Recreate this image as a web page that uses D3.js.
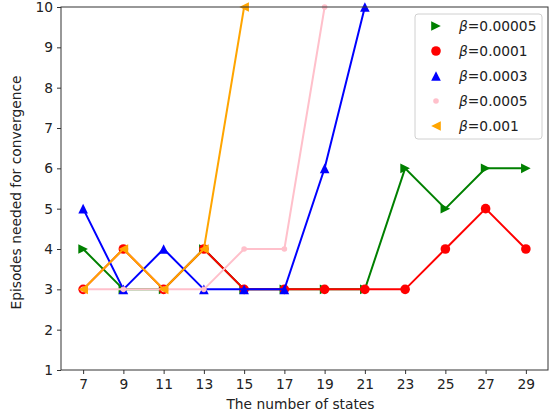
<!DOCTYPE html>
<html>
<head>
<meta charset="utf-8">
<script src="https://cdn.jsdelivr.net/npm/d3@7"></script>
<style>
  body { margin: 0; background: #fff; }
  svg { font-family: "DejaVu Sans", sans-serif; }
</style>
</head>
<body>
<div id="chart"></div>
<script>
const states = [7, 9, 11, 13, 15, 17, 19, 21, 23, 25, 27, 29];
const xTicks = [7, 9, 11, 13, 15, 17, 19, 21, 23, 25, 27, 29];
const yTicks = [1, 2, 3, 4, 5, 6, 7, 8, 9, 10];

const beta00005 = [4, 3, 3, 4, 3, 3, 3, 3, 6, 5, 6, 6];
const beta0001  = [3, 4, 3, 4, 3, 3, 3, 3, 3, 4, 5, 4];
const beta0003  = [5, 3, 4, 3, 3, 3, 6, 10];
const beta0005  = [3, 3, 3, 3, 4, 4, 10];
const beta001   = [3, 4, 3, 4, 10];

const seriesNames = ["0.00005", "0.0001", "0.0003", "0.0005", "0.001"];

const series = [
  { name: seriesNames[0], values: beta00005, color: "green", marker: "right" },
  { name: seriesNames[1], values: beta0001, color: "red", marker: "circle" },
  { name: seriesNames[2], values: beta0003, color: "blue", marker: "up" },
  { name: seriesNames[3], values: beta0005, color: "pink", marker: "point" },
  { name: seriesNames[4], values: beta001, color: "orange", marker: "left" }
];

const W = 553, H = 418;
const m = { left: 61, right: 548, top: 7, bottom: 370 };
const fs = "13.8px";

const svg = d3.select("#chart").append("svg")
  .attr("width", W)
  .attr("height", H);

const x = d3.scaleLinear().domain([5.9, 30.1]).range([m.left, m.right]);
const y = d3.scaleLinear().domain([1, 10]).range([m.bottom, m.top]);

svg.append("clipPath").attr("id", "clip")
  .append("rect")
  .attr("x", m.left).attr("y", m.top - 6)
  .attr("width", m.right - m.left).attr("height", m.bottom - m.top + 6);

// marker shapes
function markerPath(type, s) {
  if (type === "up") return `M0,${-s}L${-s},${s}L${s},${s}Z`;
  if (type === "right") return `M${s},0L${-s},${-s}L${-s},${s}Z`;
  if (type === "left") return `M${-s},0L${s},${-s}L${s},${s}Z`;
  return null;
}

function drawMarker(g, type, color, cx, cy) {
  if (type === "circle") {
    g.append("circle").attr("cx", cx).attr("cy", cy).attr("r", 4.8).attr("fill", color);
  } else if (type === "point") {
    g.append("circle").attr("cx", cx).attr("cy", cy).attr("r", 2.8).attr("fill", color);
  } else {
    g.append("path")
      .attr("transform", `translate(${cx},${cy})`)
      .attr("d", markerPath(type, 4.8))
      .attr("fill", color);
  }
}

const plot = svg.append("g").attr("clip-path", "url(#clip)");

const line = d3.line()
  .x((d, i) => x(states[i]))
  .y(d => y(d));

series.forEach(s => {
  const g = plot.append("g");
  g.append("path")
    .datum(s.values)
    .attr("fill", "none")
    .attr("stroke", s.color)
    .attr("stroke-width", 2)
    .attr("d", line);
  s.values.forEach((v, i) => drawMarker(g, s.marker, s.color, x(states[i]), y(v)));
});

// axes
const xAxis = svg.append("g")
  .attr("transform", `translate(0,${m.bottom})`)
  .call(d3.axisBottom(x).tickValues(xTicks).tickSize(4).tickPadding(5).tickFormat(d3.format("d")));
const yAxis = svg.append("g")
  .attr("transform", `translate(${m.left},0)`)
  .call(d3.axisLeft(y).tickValues(yTicks).tickSize(4).tickPadding(4).tickFormat(d3.format("d")));

[xAxis, yAxis].forEach(a => {
  a.select(".domain").remove();
  a.selectAll(".tick line").attr("stroke", "#333");
  a.selectAll("text").style("font-size", fs).attr("fill", "#222")
    .style("font-family", "DejaVu Sans, sans-serif");
});

svg.append("rect")
  .attr("x", m.left).attr("y", m.top)
  .attr("width", m.right - m.left).attr("height", m.bottom - m.top)
  .attr("fill", "none")
  .attr("stroke", "#333")
  .attr("stroke-width", 1);

svg.append("text")
  .attr("x", (m.left + m.right) / 2 - 4)
  .attr("y", 409)
  .attr("text-anchor", "middle")
  .style("font-size", fs)
  .attr("fill", "#222")
  .text("The number of states");

svg.append("text")
  .attr("transform", `translate(21,${(m.top + m.bottom) / 2 + 4}) rotate(-90)`)
  .attr("text-anchor", "middle")
  .style("font-size", fs)
  .attr("fill", "#222")
  .text("Episodes needed for convergence");

// legend
const legend = svg.append("g");
legend.append("rect")
  .attr("x", 415).attr("y", 14)
  .attr("width", 127).attr("height", 125)
  .attr("rx", 3)
  .attr("fill", "white")
  .attr("fill-opacity", 0.8)
  .attr("stroke", "#d0d0d0");

series.forEach((s, i) => {
  const cy = 26 + i * 25;
  drawMarker(legend, s.marker, s.color, 436, cy);
  const t = legend.append("text")
    .attr("x", 459)
    .attr("y", cy + 5)
    .style("font-size", fs)
    .attr("fill", "#222");
  t.append("tspan").style("font-style", "italic").text("β");
  t.append("tspan").text("=" + s.name);
});
</script>
</body>
</html>
